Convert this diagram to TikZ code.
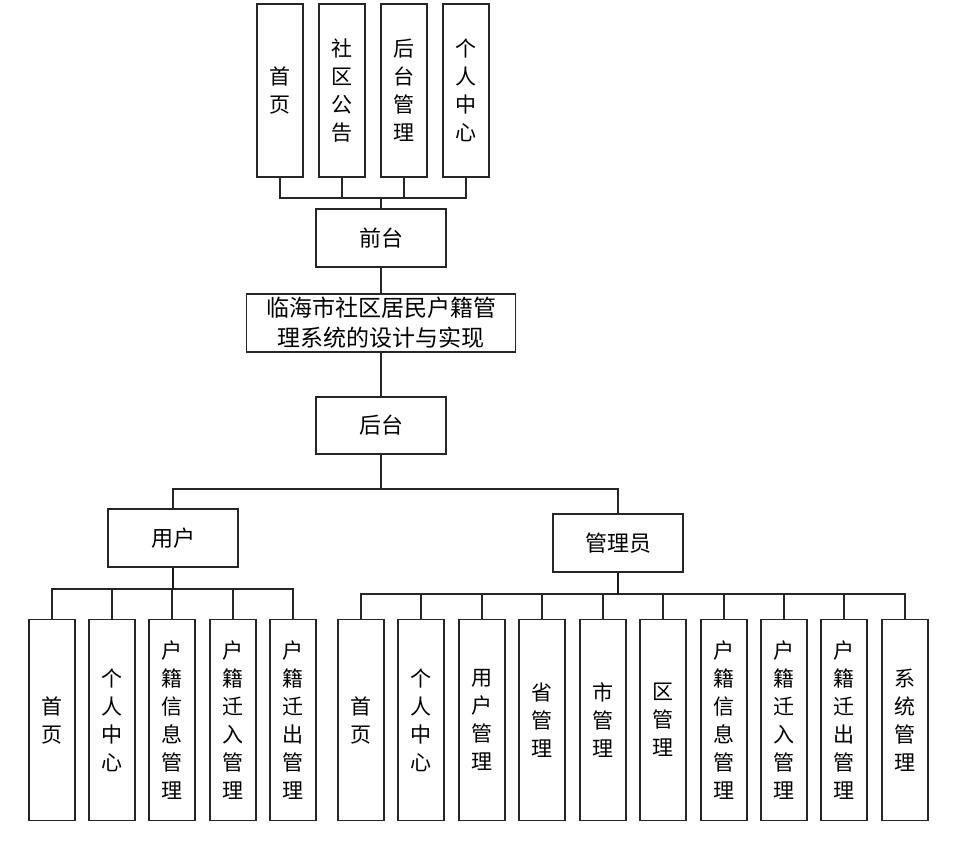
\documentclass[tikz,border=0pt]{standalone}
\usepackage{fontspec}
\newfontfamily\cjk{Noto Sans CJK SC}
\begin{document}
\begin{tikzpicture}[x=1pt,y=-1pt,
  bx/.style={draw=black!85, line width=1.8pt, inner sep=0pt, align=center, fill=white},
  vbx/.style={bx, minimum width=46pt, font=\cjk\fontsize{21}{28}\selectfont},
  hbx/.style={bx, minimum width=130pt, minimum height=58pt, font=\cjk\fontsize{22}{28}\selectfont},
  conn/.style={draw=black!85, line width=1.8pt},
  thickconn/.style={draw=black!90, line width=2.8pt}]
\useasboundingbox (0,0) rectangle (973,843);

% top row
\node[vbx, minimum height=173pt] (t1) at (280,90.5) {首\\页};
\node[vbx, minimum height=173pt] (t2) at (342,90.5) {社\\区\\公\\告};
\node[vbx, minimum height=173pt] (t3) at (404,90.5) {后\\台\\管\\理};
\node[vbx, minimum height=173pt] (t4) at (466,90.5) {个\\人\\中\\心};

\node[hbx] (qt) at (381,238) {前台};
\node[bx, minimum width=269pt, minimum height=58pt, font=\cjk\fontsize{23}{30}\selectfont] (main) at (381,323) {临海市社区居民户籍管\\理系统的设计与实现};
\node[hbx, minimum height=57pt] (ht) at (381,425.5) {后台};
\node[hbx] (yh) at (173,538) {用户};
\node[hbx] (gly) at (618,543) {管理员};

% bottom left
\node[vbx, minimum height=201pt] (u1) at (52,720) {首\\页};
\node[vbx, minimum height=201pt] (u2) at (112,720) {个\\人\\中\\心};
\node[vbx, minimum height=201pt] (u3) at (172,720) {户\\籍\\信\\息\\管\\理};
\node[vbx, minimum height=201pt] (u4) at (233,720) {户\\籍\\迁\\入\\管\\理};
\node[vbx, minimum height=201pt] (u5) at (293,720) {户\\籍\\迁\\出\\管\\理};

% bottom right
\node[vbx, minimum height=201pt] (a1) at (361,720) {首\\页};
\node[vbx, minimum height=201pt] (a2) at (421,720) {个\\人\\中\\心};
\node[vbx, minimum height=201pt] (a3) at (482,720) {用\\户\\管\\理};
\node[vbx, minimum height=201pt] (a4) at (542,720) {省\\管\\理};
\node[vbx, minimum height=201pt] (a5) at (603,720) {市\\管\\理};
\node[vbx, minimum height=201pt] (a6) at (663,720) {区\\管\\理};
\node[vbx, minimum height=201pt] (a7) at (724,720) {户\\籍\\信\\息\\管\\理};
\node[vbx, minimum height=201pt] (a8) at (784,720) {户\\籍\\迁\\入\\管\\理};
\node[vbx, minimum height=201pt] (a9) at (844,720) {户\\籍\\迁\\出\\管\\理};
\node[vbx, minimum height=201pt] (a10) at (905,720) {系\\统\\管\\理};

% connectors top
\foreach \c in {t1,t2,t3,t4}
  \draw[conn] (qt.north) -- ++(0,-10) -| (\c.south);
\draw[conn] (qt.south) -- (main.north);
\draw[conn] (main.south) -- (ht.north);
\foreach \c in {yh,gly}
  \draw[conn] (ht.south) -- ++(0,34) -| (\c.north);

\foreach \c in {u1,u2,u3,u4,u5}
  \draw[conn] (yh.south) -- ++(0,21) -| (\c.north);
\draw[thickconn] (yh.south) -- ++(0,21);
\foreach \c in {a1,a2,a3,a4,a5,a6,a7,a8,a9,a10}
  \draw[conn] (gly.south) -- ++(0,21) -| (\c.north);
\draw[thickconn] (gly.south) -- ++(0,21);
\end{tikzpicture}
\end{document}
